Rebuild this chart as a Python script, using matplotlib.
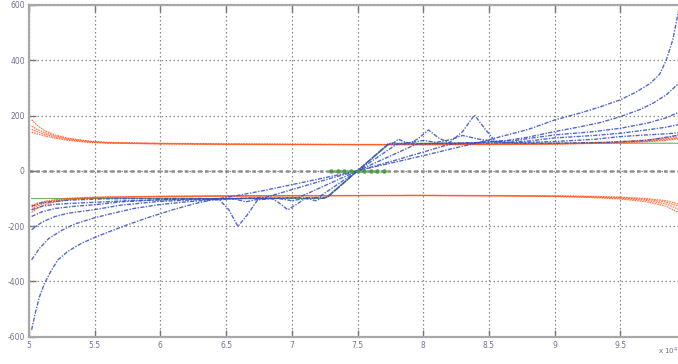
import matplotlib
matplotlib.use("Agg")
import matplotlib.pyplot as plt

plt.rcParams['axes.unicode_minus'] = False
plt.rcParams['font.family'] = ['DejaVu Sans']

# ---------------- data ----------------
x_ticks = [5, 5.5, 6, 6.5, 7, 7.5, 8, 8.5, 9, 9.5]
x_tick_labels = ['5', '5.5', '6', '6.5', '7', '7.5', '8', '8.5', '9', '9.5']
y_ticks = [-600, -400, -200, 0, 200, 400, 600]
y_tick_labels = ['-600', '-400', '-200', '0', '200', '400', '600']

# blue curves
blue_a_x = [5.02, 5.05, 5.08, 5.12, 5.17, 5.22, 5.3, 5.4, 5.49, 5.6, 5.75, 5.9, 5.98, 6.1, 6.25, 6.39,
            6.6, 6.8, 7.0, 7.2, 7.35, 7.5, 7.65, 7.8, 8.0, 8.2, 8.4, 8.64, 8.8, 9.0, 9.2, 9.35, 9.5,
            9.62, 9.73, 9.8, 9.85, 9.9, 9.93, 9.96, 9.99]
blue_a_y = [-575, -510, -455, -405, -360, -322, -290, -262, -243, -222, -195, -170, -158, -140, -120, -105,
            -88, -70, -50, -30, -15, 0, 17, 33, 55, 78, 100, 130, 150, 184, 210, 232, 257,
            285, 317, 350, 401, 475, 546, 620, 700]

blue_b_x = [5.02, 5.08, 5.15, 5.25, 5.35, 5.49, 5.65, 5.8, 5.98, 6.2, 6.4, 6.6, 6.8, 7.0, 7.2, 7.5,
            7.8, 8.0, 8.2, 8.4, 8.64, 8.8, 9.0, 9.2, 9.35, 9.5, 9.65, 9.75, 9.85, 9.93, 9.99]
blue_b_y = [-322, -280, -245, -215, -192, -171, -152, -136, -123, -112, -105, -100, -96, -68, -40, 0,
            40, 68, 96, 102, 110, 122, 142, 160, 175, 196, 222, 245, 275, 310, 340]

blue_c_x = [5.02, 5.1, 5.2, 5.3, 5.49, 5.7, 5.98, 6.3, 6.6, 6.9, 7.05, 7.5, 7.95, 8.1, 8.4, 8.7,
            9.0, 9.3, 9.5, 9.7, 9.85, 9.93, 9.99]
blue_c_y = [-213, -185, -165, -153, -141, -124, -111, -104, -100, -98, -97, 0, 97, 99, 102, 110,
            130, 142, 154, 172, 192, 209, 225]

blue_d_x = [5.02, 5.1, 5.2, 5.35, 5.49, 5.7, 5.98, 6.3, 6.55, 6.65, 6.75, 6.9, 7.0, 7.1, 7.2, 7.5,
            7.8, 7.9, 8.0, 8.1, 8.2, 8.3, 8.42, 8.6, 8.8, 9.0, 9.3, 9.5, 9.7, 9.85, 9.93, 9.99]
blue_d_y = [-165, -148, -136, -128, -123, -112, -105, -101, -100, -112, -102, -100, -108, -100, -97, 0,
            97, 102, 110, 103, 112, 128, 115, 102, 108, 119, 128, 136, 148, 158, 166, 175]

blue_e_x = [5.02, 5.1, 5.2, 5.35, 5.49, 5.7, 5.98, 6.4, 6.9, 7.27, 7.5, 7.73, 8.1, 8.6,
            9.0, 9.3, 9.5, 9.7, 9.85, 9.93, 9.99]
blue_e_y = [-141, -128, -121, -117, -114, -109, -105, -101, -99, -96, 0, 96, 99, 101,
            106, 114, 124, 130, 134, 137, 142]

blue_f_x = [5.02, 5.1, 5.3, 5.6, 6.0, 6.3, 6.45, 6.52, 6.59, 6.66, 6.74, 6.85, 6.9, 6.97, 7.04, 7.1,
            7.14, 7.18, 7.22, 7.27, 7.5, 7.73, 7.78, 7.81, 7.85, 7.9, 7.96, 8.04, 8.12, 8.2, 8.3,
            8.39, 8.47, 8.55, 8.7, 9.0, 9.4, 9.7, 9.93, 9.99]
blue_f_y = [-128, -115, -106, -101, -100, -100, -105, -140, -201, -160, -105, -100, -115, -141, -120, -100,
            -103, -108, -100, -96, 0, 96, 102, 115, 106, 100, 116, 148, 118, 102, 142,
            202, 152, 106, 100, 100, 103, 110, 128, 134]

# orange curves (upper group)
orange_x = [5.02, 5.06, 5.12, 5.2, 5.3, 5.45, 5.6, 6.0, 6.5, 7.0, 7.5, 8.0, 8.5, 9.0, 9.3,
            9.5, 9.7, 9.85, 9.93, 9.99]
orange_u1 = [185, 165, 145, 130, 118, 108, 103, 100, 98, 97, 96, 96, 97, 99, 102,
             106, 112, 120, 128, 136]
orange_u2 = [162, 150, 138, 126, 116, 107, 102, 99, 97, 96, 95, 95, 96, 98, 101,
             104, 109, 116, 122, 129]
orange_u3 = [150, 142, 132, 122, 113, 105, 101, 98, 96, 95, 95, 95, 95, 97, 100,
             103, 107, 113, 118, 124]
orange_u4 = [140, 134, 126, 118, 110, 103, 100, 97, 95, 95, 94, 94, 95, 96, 99,
             101, 105, 110, 115, 120]
# orange curves (lower group)
orange_l1 = [-150, -136, -122, -112, -105, -100, -97, -94, -92, -91, -90, -90, -91, -93, -97,
             -102, -112, -128, -148, -166]
orange_l2 = [-140, -128, -117, -109, -103, -98, -96, -93, -91, -90, -90, -89, -90, -92, -95,
             -99, -107, -120, -136, -152]
orange_l3 = [-132, -122, -113, -106, -101, -97, -95, -92, -91, -90, -89, -89, -90, -91, -94,
             -97, -103, -113, -126, -140]
orange_l4 = [-125, -117, -110, -104, -99, -96, -94, -92, -90, -89, -89, -88, -89, -90, -92,
             -95, -100, -108, -118, -130]

# green reference
green_x = [5.02, 7.25, 7.75, 9.99]
green_y = [-100, -100, 100, 100]
green_dots_x = [7.30, 7.35, 7.40, 7.45, 7.50, 7.55, 7.60, 7.65, 7.70]
green_dots_y = [0, 0, 0, 0, 0, 0, 0, 0, 0]

# ---------------- drawing ----------------
W, H = 678, 364
fig = plt.figure(figsize=(W / 100, H / 100), dpi=100)
fig.patch.set_facecolor('white')
left_px, right_px, top_px, bottom_px = 29, 686, 5, 336.7
ax = fig.add_axes([left_px / W, (H - bottom_px) / H, (right_px - left_px) / W, (bottom_px - top_px) / H])

blue = '#3550c0'
orange = '#ff5722'
green = '#4aa040'

ax.plot(green_x, green_y, color=green, lw=0.8, alpha=0.8, zorder=2)

for oy in [orange_u1, orange_u2, orange_u3, orange_u4, orange_l1, orange_l2, orange_l3, orange_l4]:
    ax.plot(orange_x, oy, color=orange, lw=0.8, ls=(0, (1.5, 0.8)), alpha=0.85, zorder=3)

dash = (0, (3.0, 1.0, 1.0, 1.0))
for bx, by in [(blue_a_x, blue_a_y), (blue_b_x, blue_b_y), (blue_c_x, blue_c_y),
               (blue_d_x, blue_d_y), (blue_e_x, blue_e_y), (blue_f_x, blue_f_y)]:
    ax.plot(bx, by, color=blue, lw=1.0, ls=dash, alpha=0.85, zorder=4)

ax.plot(green_dots_x, green_dots_y, 'o', color=green, ms=3.2, mec='none', zorder=5)

ax.set_xlim(5, 10)
ax.set_ylim(-600, 600)
ax.set_xticks(x_ticks)
ax.set_xticklabels(x_tick_labels)
ax.set_yticks(y_ticks)
ax.set_yticklabels(y_tick_labels)

ax.grid(True, color='#8a8a8a', ls=(0, (1.2, 2.0)), lw=0.9)
ax.axhline(0, color='#909090', ls=(0, (1.5, 1.2)), lw=1.8, zorder=1)

for s in ax.spines.values():
    s.set_color('#a8a8a8')
    s.set_linewidth(1.6)

ax.tick_params(axis='both', direction='in', length=5, width=1.0, color='#777777',
               labelsize=5.5, labelcolor='#7a6f92', pad=3, top=True, right=True)

fig.text(0.970, 0.018, 'x 10$^4$', fontsize=5, color='#6a6a90', ha='left', va='bottom')

fig.savefig('out.png', dpi=100)
